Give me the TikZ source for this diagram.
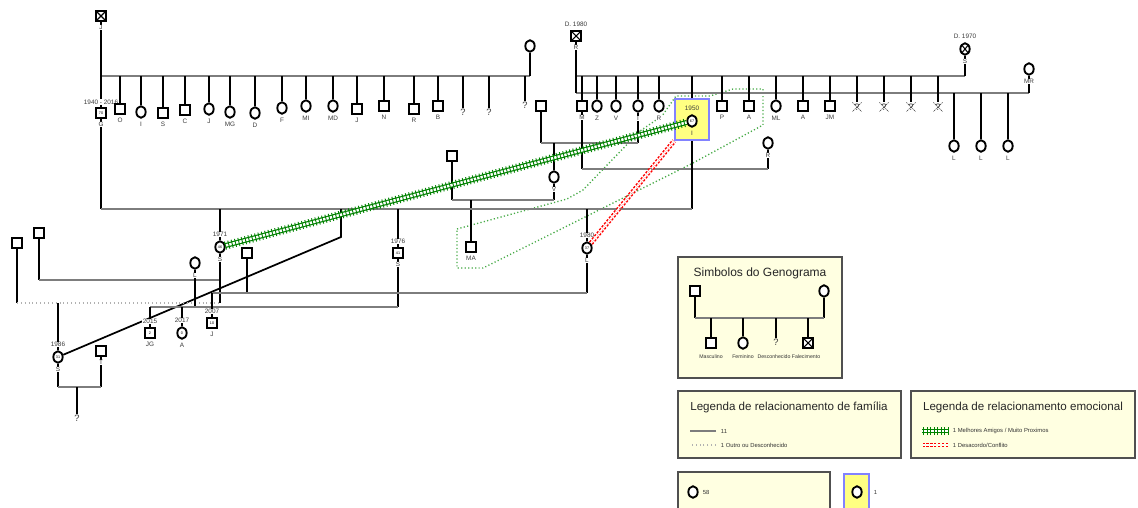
\documentclass[tikz,border=0pt]{standalone}
\usepackage{fontspec}
\setmainfont{Liberation Sans}
\usetikzlibrary{shapes.geometric,decorations.pathreplacing}
\pgfdeclarelayer{bg}
\pgfsetlayers{bg,main}
\definecolor{relgray}{RGB}{125,125,125}
\definecolor{labgray}{RGB}{60,60,60}
\definecolor{legfill}{RGB}{255,255,225}
\definecolor{legdraw}{RGB}{80,80,80}
\definecolor{selfill}{RGB}{255,255,130}
\definecolor{seldraw}{RGB}{130,130,255}
\definecolor{grpgreen}{RGB}{70,170,70}
\definecolor{friendgreen}{RGB}{0,130,0}
\newcommand{\labfont}{\fontsize{4.8}{5.5}\selectfont}
\newcommand{\agefont}{\fontsize{2.8}{3}\selectfont}
\newcommand{\capfont}{\fontsize{3.9}{4.5}\selectfont}
\newcommand{\legfont}{\fontsize{4.4}{5}\selectfont}
\begin{document}
\begin{tikzpicture}[x=0.75pt,y=0.75pt,yscale=-1,xscale=1,
  male/.style={draw,line width=1.4pt,fill=white,rectangle,minimum size=7.5pt,inner sep=0pt,font=\agefont},
  female/.style={draw,line width=1.4pt,fill=white,ellipse,minimum width=7pt,minimum height=8.6pt,inner sep=0pt,font=\agefont},
  dead/.style={path picture={\draw[line width=0.8pt] (path picture bounding box.south west) -- (path picture bounding box.north east) (path picture bounding box.north west) -- (path picture bounding box.south east);}},
  unk/.style={inner sep=0.5pt,text=labgray,font=\fontsize{7}{8}\selectfont},
  lab/.style={inner sep=0.4pt,text=labgray,font=\labfont},
  kid/.style={line width=1.3pt,black},
  rel/.style={line width=1.7pt,relgray},
  other/.style={line width=1pt,relgray!60,dash pattern=on 0.7pt off 2.2pt},
  friendline/.style={friendgreen,line width=0.9pt,double=white,double distance=1.9pt},
  friendtick/.style={friendgreen,line width=0.7pt,decorate,decoration={ticks,segment length=2.6pt,amplitude=3.1pt}},
  conflict/.style={red,line width=1.1pt,double=white,double distance=1.4pt,dash pattern=on 1.7pt off 1.2pt},
  grp/.style={grpgreen,line width=1pt,dash pattern=on 0.9pt off 1.7pt},
  xq/.style={labgray,line width=0.5pt,dash pattern=on 1pt off 0.6pt},
  legbox/.style={draw=legdraw,fill=legfill,line width=1pt},
  legtitle/.style={inner sep=0pt,text=black!85,font=\fontsize{8.7}{9}\selectfont},
  legtxt/.style={inner sep=0.5pt,anchor=west,text=black!80,font=\legfont},
  every label/.style={inner sep=0.4pt,text=labgray,font=\labfont,fill=white},
  label distance=2pt]
\useasboundingbox (0,0) rectangle (1138,507);

% levels of the family lines
\coordinate (y76) at (0,76);
\coordinate (y93) at (0,93);
\coordinate (y143) at (0,143);
\coordinate (y169) at (0,169);
\coordinate (y200) at (0,200);
\coordinate (y209) at (0,209);
\coordinate (y280) at (0,280);
\coordinate (y293) at (0,293);
\coordinate (y303) at (0,303);
\coordinate (y307) at (0,307);
\coordinate (y387) at (0,387);

%Shape: first generation, left
\node[male,dead,label=below:J] (J0) at (101,16) {};
\node[female] (momA) at (530,46) {};
\node[male,label=below:G,label={[label distance=1.4pt]above:1940 - 2016}] (G) at (101,113) {70};
\node[male,label=below:O] (tO) at (120,109) {};
\node[female,label=below:I] (tI) at (141,112) {};
\node[male,label=below:S] (tS) at (163,113) {};
\node[male,label=below:C] (tC) at (185,110) {};
\node[female,label=below:J] (tJ) at (209,109) {};
\node[female,label=below:MG] (tMG) at (230,112) {};
\node[female,label=below:D] (tD) at (255,113) {};
\node[female,label=below:F] (tF) at (282,108) {};
\node[female,label=below:MI] (tMI) at (306,106) {};
\node[female,label=below:MD] (tMD) at (333,106) {};
\node[male,label=below:J] (tJb) at (357,109) {};
\node[male,label=below:N] (tN) at (384,106) {};
\node[male,label=below:R] (tR) at (414,109) {};
\node[male,label=below:B] (tB) at (438,106) {};
\node[unk] (tQa) at (463,112) {?};
\node[unk] (tQb) at (489,112) {?};
\node[unk] (tQc) at (525,105) {?};

%Shape: first generation, right
\node[male,dead,label=below:R,label=above:D. 1980] (R0) at (576,36) {};
\node[female,dead,label=below:S,label=above:D. 1970] (S0) at (965,49) {};
\node[female,label=below:MR] (MR) at (1029,69) {};
\node[male,label=below:M] (rM) at (582,106) {};
\node[female,label=below:Z] (rZ) at (597,106) {};
\node[female,label=below:V] (rV) at (616,106) {};
\node[female,label=below:I] (rI) at (638,106) {};
\node[female,label=below:R] (rR) at (659,106) {};
\node[male,label=below:P] (rP) at (722,106) {};
\node[male,label=below:A] (rA) at (749,106) {};
\node[female,label=below:ML] (rML) at (776,106) {};
\node[male,label=below:A] (rAb) at (803,106) {};
\node[male,label=below:JM] (rJM) at (830,106) {};
\node[unk,minimum size=6.5pt] (rQa) at (857,107) {?};
\node[unk,minimum size=6.5pt] (rQb) at (884,107) {?};
\node[unk,minimum size=6.5pt] (rQc) at (911,107) {?};
\node[unk,minimum size=6.5pt] (rQd) at (938,107) {?};
\node[female,label=below:L] (rLa) at (954,146) {};
\node[female,label=below:L] (rLb) at (981,146) {};
\node[female,label=below:L] (rLc) at (1008,146) {};
\foreach \n in {rQa,rQb,rQc,rQd}
  \draw[xq] (\n.north west) -- (\n.south east) (\n.north east) -- (\n.south west);

%Shape: the index person
\node[draw=seldraw,fill=selfill,line width=1.4pt,minimum width=25.5pt,minimum height=30.8pt] (ibox) at (692,119.5) {};
\node[lab] (Iyr) at (692,108) {1950};
\node[female] (Ic) at (692,121) {67};
\node[lab] (Il) at (692,133) {I};

%Shape: middle couples
\node[male] (mSq) at (541,106) {};
\node[female,label=below:V] (mV) at (554,177) {};
\node[male] (mSq2) at (452,156) {};
\node[male,label=below:MA] (mMA) at (471,247) {};
\node[female,label=below:R] (mR) at (768,143) {};

%Shape: second generation
\node[female,label=below:S,label=above:1971] (S71) at (220,247) {46};
\node[male,label=below:S,label=above:1976] (S76) at (398,253) {41};
\node[female,label=below:L,label=above:1980] (L80) at (587,248) {37};
\node[male] (lSq) at (39,233) {};
\node[male] (lSq2) at (17,243) {};
\node[female,label=below:L] (lL) at (195,263) {};
\node[male] (lSq3) at (247,253) {};

%Shape: third generation
\node[male,label=below:JG,label=above:2015] (JG) at (150,333) {2};
\node[female,label=below:A,label=above:2017] (A17) at (182,333) {0};
\node[male,label=below:J,label=above:2007] (J07) at (212,323) {10};
\node[female,label=below:S,label=above:1986] (S86) at (58,357) {31};
\node[male,label=below:T] (T) at (101,351) {};
\node[unk] (lQ) at (77,418) {?};
\coordinate (dg) at (341,237);

\begin{pgfonlayer}{bg}
%Straight Lines: group outline
\draw[grp] (457,229) -- (567,199) -- (583,190) -- (640,131) -- (662,116) -- (676,96) -- (710,96) -- (733,89) -- (763,89) -- (763,125) -- (693,163) -- (483,268) -- (457,268) -- cycle;
%Straight Lines: left family
\draw[rel] (J0 |- y76) -- (momA |- y76);
\draw[kid] (momA) -- (momA |- y76);
\draw[kid] (J0) -- (G);
\foreach \n in {tO,tI,tS,tC,tJ,tMG,tD,tF,tMI,tMD,tJb,tN,tR,tB,tQa,tQb,tQc}
  \draw[kid] (\n |- y76) -- (\n);
%Straight Lines: right family
\draw[rel] (R0 |- y76) -- (S0 |- y76);
\draw[rel] (R0 |- y93) -- (MR |- y93);
\draw[kid] (R0) -- (R0 |- y93);
\draw[kid] (S0) -- (S0 |- y76);
\draw[kid] (MR) -- (MR |- y93);
\foreach \n in {rM,rZ,rV,rI,rR,ibox,rP,rA,rML,rAb,rJM,rQa,rQb,rQc,rQd}
  \draw[kid] (\n |- y76) -- (\n);
\foreach \n in {rLa,rLb,rLc}
  \draw[kid] (\n |- y93) -- (\n);
%Straight Lines: middle couples
\draw[kid] (mSq) -- (mSq |- y143);
\draw[kid] (rI) -- (rI |- y143);
\draw[rel] (mSq |- y143) -- (rI |- y143);
\draw[kid] (mV |- y143) -- (mV);
\draw[kid] (mSq2) -- (mSq2 |- y200);
\draw[kid] (mV) -- (mV |- y200);
\draw[rel] (mSq2 |- y200) -- (mV |- y200);
\draw[kid] (mMA |- y200) -- (mMA);
\draw[kid] (rM) -- (rM |- y169);
\draw[kid] (mR) -- (mR |- y169);
\draw[rel] (rM |- y169) -- (mR |- y169);
%Straight Lines: G and I
\draw[kid] (G) -- (G |- y209);
\draw[kid] (ibox) -- (ibox |- y209);
\draw[rel] (G |- y209) -- (ibox |- y209);
\foreach \n in {S71,S76,L80}
  \draw[kid] (\n |- y209) -- (\n);
\draw[kid] (dg |- y209) -- (dg) -- (S86);
%Straight Lines: lower couples
\draw[kid] (lSq) -- (lSq |- y280);
\draw[rel] (lSq |- y280) -- (S71 |- y280);
\draw[kid] (S71) -- (S71 |- y303);
\draw[kid] (lSq2) -- (lSq2 |- y303);
\draw[other] (lSq2 |- y303) -- (S71 |- y303);
\draw[kid] (S86 |- y303) -- (S86);
\draw[kid] (lL) -- (lL |- y307);
\draw[kid] (S76) -- (S76 |- y307);
\draw[rel] (JG |- y307) -- (S76 |- y307);
\draw[kid] (JG |- y307) -- (JG);
\draw[kid] (A17 |- y307) -- (A17);
\draw[kid] (lSq3) -- (lSq3 |- y293);
\draw[kid] (L80) -- (L80 |- y293);
\draw[rel] (J07 |- y293) -- (L80 |- y293);
\draw[kid] (J07 |- y293) -- (J07);
\draw[kid] (S86) -- (S86 |- y387);
\draw[kid] (T) -- (T |- y387);
\draw[rel] (S86 |- y387) -- (T |- y387);
\draw[kid] (lQ |- y387) -- (lQ);
\end{pgfonlayer}

%Straight Lines: emotional relations
\draw[friendline] (S71) -- (Ic);
\draw[friendtick] (S71) -- (Ic);
\draw[conflict] (L80) -- (ibox.south west);

%Shape: legend of symbols
\draw[legbox] (678,257) rectangle (842,378);
\node[legtitle,font=\fontsize{9}{10}\selectfont] (symT) at (760,273) {Simbolos do Genograma};
\node[male] (kM) at (695,291) {};
\node[female] (kF) at (824,291) {};
\node[male] (kC1) at (711,343) {};
\node[female] (kC2) at (743,343) {};
\node[unk] (kC3) at (776,342) {?};
\node[male,dead] (kC4) at (808,343) {};
\node[lab,text=black!80,font=\capfont] (kC1l) at (711,357) {Masculino};
\node[lab,text=black!80,font=\capfont] (kC2l) at (743,357) {Feminino};
\node[lab,text=black!80,font=\capfont] (kC3l) at (774,357) {Desconhecido};
\node[lab,text=black!80,font=\capfont] (kC4l) at (806,357) {Falecimento};
\coordinate (y318) at (0,318);
\draw[kid] (kM) -- (kM |- y318);
\draw[kid] (kF) -- (kF |- y318);
\draw[rel] (kM |- y318) -- (kF |- y318);
\foreach \n in {kC1,kC2,kC3,kC4}
  \draw[kid] (\n |- y318) -- (\n);

%Shape: legend of family relations
\draw[legbox] (678,391) rectangle (901,458);
\node[legtitle] (famT) at (789,407) {Legenda de relacionamento de família};
\node[legtxt] (famA) at (720,431) {11};
\node[legtxt] (famB) at (720,445) {1 Outro ou Desconhecido};
\draw[rel,line width=1.2pt] ([xshift=-3pt]famA.west) -- ++(-26,0);
\draw[other] ([xshift=-3pt]famB.west) -- ++(-26,0);

%Shape: legend of emotional relations
\draw[legbox] (911,391) rectangle (1135,458);
\node[legtitle] (emoT) at (1023,407) {Legenda de relacionamento emocional};
\node[legtxt] (emoA) at (952,431) {1 Melhores Amigos / Muito Proximos};
\node[legtxt] (emoB) at (952,445) {1 Desacordo/Conflito};
\draw[friendline] ([xshift=-3pt]emoA.west) -- ++(-26,0);
\draw[friendtick] ([xshift=-3pt]emoA.west) -- ++(-26,0);
\draw[conflict] ([xshift=-3pt]emoB.west) -- ++(-26,0);

%Shape: counters
\draw[legbox] (678,472) rectangle (830,515);
\node[female] (cntF) at (693,492) {};
\node[legtxt] (cntFt) at (702,492) {58};
\draw[fill=selfill,draw=seldraw,line width=1.4pt] (844,474) rectangle (869,515);
\node[female] (cntI) at (857,492) {};
\node[legtxt] (cntIt) at (873,492) {1};

\end{tikzpicture}
\end{document}
